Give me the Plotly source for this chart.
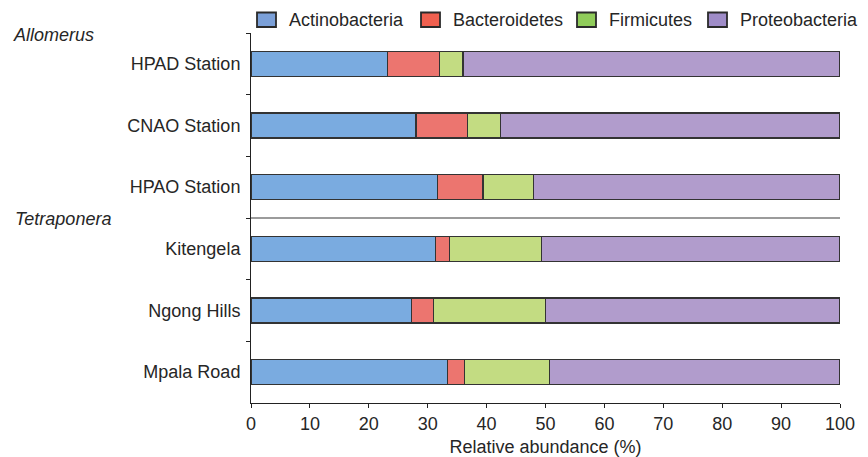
import plotly.graph_objects as go

# ---- data ----
sites = ["HPAD Station", "CNAO Station", "HPAO Station", "Kitengela", "Ngong Hills", "Mpala Road"]
phyla = ["Actinobacteria", "Bacteroidetes", "Firmicutes", "Proteobacteria"]
actinobacteria = [23.2, 28.0, 31.7, 31.3, 27.3, 33.3]
bacteroidetes = [8.8, 8.8, 7.7, 2.4, 3.7, 2.9]
firmicutes = [4.0, 5.6, 8.5, 15.6, 19.0, 14.5]
proteobacteria = [64.0, 57.6, 52.1, 50.7, 50.0, 49.3]
groups = ["Allomerus", "Tetraponera"]
x_ticks = [0, 10, 20, 30, 40, 50, 60, 70, 80, 90, 100]

# ---- styles ----
bar_colors = ["#7aabe0", "#ec756f", "#c3dc82", "#b19ccc"]
swatch_colors = ["#7ba0d8", "#f0604f", "#90cc5a", "#9f8cc8"]
FONT = "Liberation Sans, Arial, Helvetica, sans-serif"
TXT = "#262626"

OFF = 8  # page body margin
W, H = 868 - OFF, 457 - OFF
ML, MR, MT, MB = 251 - OFF, 28, 33 - OFF, 54
PW, PH = W - ML - MR, H - MT - MB


def px_x(px):
    return (px - OFF - ML) / PW


def px_y(py):
    return (H - MB - (py - OFF)) / PH


fig = go.Figure()
for name, vals, col in zip(phyla, [actinobacteria, bacteroidetes, firmicutes, proteobacteria], bar_colors):
    fig.add_trace(go.Bar(
        y=sites, x=vals, name=name, orientation="h",
        marker=dict(color=col, line=dict(color="#333333", width=1.2)),
        width=0.405, showlegend=False,
    ))

shapes = []
annotations = []

# separator line between the two ant genera
shapes.append(dict(type="line", xref="x", yref="y", x0=0, x1=100, y0=2.5, y1=2.5,
                   line=dict(color="#7a7a7a", width=1.5), layer="below"))

# custom legend (large swatches)
leg_swatch_x = [257, 421, 577, 708]
for sx, col, name in zip(leg_swatch_x, swatch_colors, phyla):
    shapes.append(dict(type="rect", xref="paper", yref="paper",
                       x0=px_x(sx), x1=px_x(sx + 19), y0=px_y(27), y1=px_y(12.5),
                       fillcolor=col, line=dict(color="#2a2a2a", width=1.8)))
    annotations.append(dict(xref="paper", yref="paper", x=px_x(sx + 30), y=px_y(20),
                            xanchor="left", yanchor="middle", showarrow=False,
                            text=name, font=dict(size=18, color=TXT, family=FONT)))

# group labels
for g, (gx, gy) in zip(groups, [(11, 35), (13, 219)]):
    annotations.append(dict(xref="paper", yref="paper", x=px_x(gx), y=px_y(gy),
                            xanchor="left", yanchor="middle", showarrow=False,
                            text="<i>%s</i>" % g, font=dict(size=18, color=TXT, family=FONT)))

fig.update_layout(
    barmode="stack",
    width=W, height=H,
    margin=dict(l=ML, r=MR, t=MT, b=MB, pad=0, autoexpand=False),
    paper_bgcolor="white", plot_bgcolor="white",
    font=dict(family=FONT, size=18, color=TXT),
    shapes=shapes, annotations=annotations,
    bargap=0.5,
)
fig.update_xaxes(
    range=[0, 100], tickvals=x_ticks, showgrid=False, zeroline=False,
    showline=True, linecolor="#222222", linewidth=1,
    ticks="outside", ticklen=4, tickcolor="#222222", automargin=False,
    tickfont=dict(size=18, color=TXT),
    title=dict(text="Relative abundance (%)", font=dict(size=18, color=TXT), standoff=8),
)
fig.update_yaxes(
    type="category", categoryorder="array", categoryarray=sites, autorange="reversed",
    showgrid=False, zeroline=False, automargin=False,
    showline=True, linecolor="#222222", linewidth=1,
    ticks="outside", ticklen=4, tickcolor="#222222", tickson="boundaries",
    tickfont=dict(size=18, color=TXT), ticklabelstandoff=6,
)

fig.write_html("out.html")
